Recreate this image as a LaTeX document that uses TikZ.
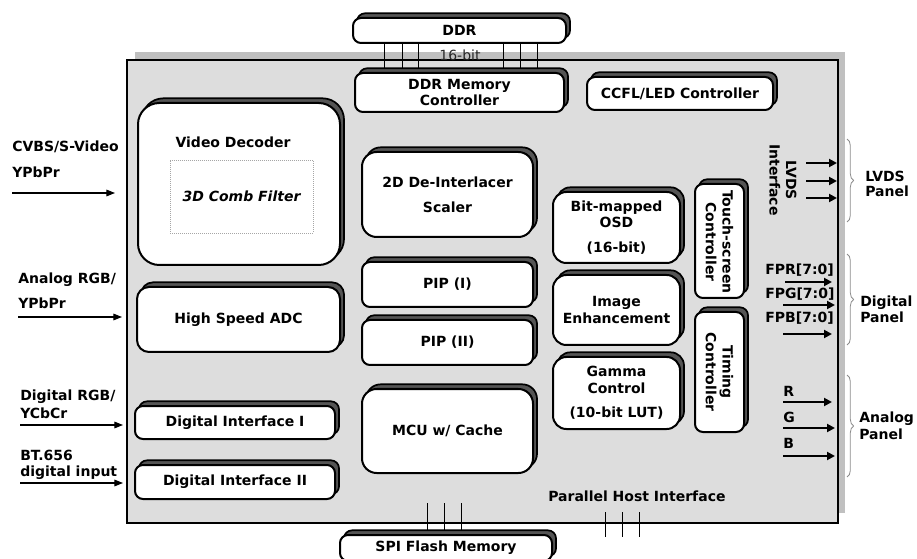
\documentclass[tikz,border=0pt]{standalone}
\usepackage{fontspec}
\setmainfont{DejaVu Sans}
\usetikzlibrary{shadows,decorations.pathreplacing,arrows.meta}
\pgfdeclarelayer{bgA}
\pgfdeclarelayer{bgB}
\pgfsetlayers{bgA,bgB,main}
\definecolor{chipfill}{HTML}{DDDDDD}
\definecolor{chipshade}{HTML}{C0C0C0}
\definecolor{boxshade}{HTML}{555555}
\begin{document}
\begin{tikzpicture}[x=0.75pt,y=-0.75pt,
  font=\fontsize{10.5}{12.5}\selectfont\bfseries,
  sz/.style 2 args={minimum width=#1*0.75pt, minimum height=#2*0.75pt},
  blk/.style={draw, line width=1.5pt, fill=white, rounded corners=#1, align=center, inner sep=0pt,
     copy shadow={shadow xshift=3pt, shadow yshift=3.5pt, fill=boxshade, draw=black, line width=1.3pt}},
  blk/.default=6pt,
  lab/.style={anchor=base west, inner sep=0pt},
  inarrow/.style={line width=0.8pt, -{Triangle[length=6.5pt,width=5pt]}},
  outarrow/.style={line width=1.8pt, -{Triangle[length=6pt,width=6pt]}},
  bus/.style={line width=0.6pt},
  brc/.style={decorate, decoration={brace, amplitude=5pt}, draw=black!45, line width=0.6pt}]
\useasboundingbox (0,0) rectangle (917,559);
\clip (0,0) rectangle (917,559);
\begin{pgfonlayer}{bgA}
\node[fill=chipshade, sz={710}{461}, inner sep=0pt] (chipshadow) at (490,282.5) {};
\node[fill=chipfill, draw, line width=0.8pt, sz={711}{463}, inner sep=0pt] (chip) at (482.5,291.5) {};
\end{pgfonlayer}

% blocks
\node[blk, sz={213}{25}] (ddr) at (459.5,30.5) {DDR};
\node[blk, sz={209}{39}] (ddrmc) at (459.5,92.5) {DDR Memory\\Controller};
\node[blk, sz={186}{33}] (ccfl) at (680,93.5) {CCFL/LED Controller};
\node[blk=16pt, sz={202}{162}] (vd) at (239,184) {};
\node (vdtext) at (233,142) {Video Decoder};
\node[draw=black!35, densely dotted, line width=0.5pt, sz={143}{73},
      font=\fontsize{10.5}{12.5}\selectfont\bfseries\itshape] (comb) at (241.5,196.5) {3D Comb Filter};
\node[blk=9pt, sz={203}{65}] (adc) at (238.5,319.5) {High Speed ADC};
\node[blk, sz={200}{33}] (di1) at (235,422.5) {Digital Interface I};
\node[blk, sz={200}{34}] (di2) at (235,482) {Digital Interface II};
\node[blk=11pt, sz={171}{85}] (dei) at (447.5,194.5) {2D De-Interlacer\\[6pt]Scaler};
\node[blk, sz={171}{45}] (pip1) at (447.5,284.5) {PIP (I)};
\node[blk, sz={171}{45}] (pip2) at (447.5,342.5) {PIP (II)};
\node[blk=11pt, sz={171}{84}] (mcu) at (447.5,431) {MCU w/ Cache};
\node[blk=10pt, sz={127}{71}] (osd) at (616.5,227.5) {Bit-mapped\\OSD\\[6pt](16-bit)};
\node[blk=10pt, sz={127}{70}] (ie) at (616.5,310) {Image\\Enhancement};
\node[blk=10pt, sz={127}{72}] (gc) at (616.5,393) {Gamma\\Control\\[6pt](10-bit LUT)};
\node[blk, sz={49}{114}] (tsc) at (719.5,241) {};
\node[rotate=-90, align=center, inner sep=0pt] (tsctext) at (719.5,242) {Touch-screen\\Controller};
\node[blk, sz={49}{120}] (tc) at (719.5,372) {};
\node[rotate=-90, align=center, inner sep=0pt] (tctext) at (719.5,372) {Timing\\Controller};
\node[blk, sz={212}{26}] (spi) at (446,548) {SPI Flash Memory};
\node[rotate=-90, align=center, inner sep=0pt] (lvdsif) at (783,180) {LVDS\\Interface};

% bus lines
\begin{pgfonlayer}{bgB}
\foreach \x in {384,402,418,503,520,537} \draw[bus] (ddr.south -| \x,0) -- (ddrmc.north -| \x,0);
\foreach \x in {427,444,461} {
  \coordinate (spitop\x) at (\x,503);
  \draw[bus] (spitop\x) -- (spi.north -| spitop\x);
}
\foreach \x in {605,622,639} {
  \coordinate (phia\x) at (\x,512);
  \coordinate (phib\x) at (\x,537);
  \draw[bus] (phia\x) -- (phib\x);
}
\end{pgfonlayer}
\node[font=\fontsize{10.5}{12.5}\selectfont\mdseries, text=black!85, inner sep=0pt] (bw) at (460,55) {16-bit};

% left inputs
\node[lab] (l1a) at (12,152) {CVBS/S-Video};
\node[lab] (l1b) at (12,178) {YPbPr};
\node[lab] (l2a) at (18,284) {Analog RGB/};
\node[lab] (l2b) at (18,309) {YPbPr};
\node[lab] (l3a) at (20,401) {Digital RGB/};
\node[lab] (l3b) at (20,418) {YCbCr};
\node[lab] (l4a) at (20,460) {BT.656};
\node[lab] (l4b) at (20,476) {digital input};
\coordinate (a1s) at (12,193);  \coordinate (a1e) at (115,193);
\coordinate (a2s) at (18,317);  \coordinate (a2e) at (122,317);
\coordinate (a3s) at (20,425);  \coordinate (a3e) at (123,425);
\coordinate (a4s) at (20,483);  \coordinate (a4e) at (123,483);
\draw[inarrow] (a1s) -- (a1e);
\draw[inarrow] (a2s) -- (a2e);
\draw[inarrow] (a3s) -- (a3e);
\draw[inarrow] (a4s) -- (a4e);

% right outputs
\foreach \y [count=\i] in {163,181,198} {
  \coordinate (lvs\i) at (806,\y); \coordinate (lve\i) at (837,\y);
  \draw[outarrow] (lvs\i) -- (lve\i);
}
\node[lab] (fpr) at (765,275) {FPR[7:0]};
\node[lab] (fpg) at (765,299) {FPG[7:0]};
\node[lab] (fpb) at (765,323) {FPB[7:0]};
\coordinate (fprs) at (785,282); \coordinate (fpre) at (832,282);
\coordinate (fpgs) at (783,305); \coordinate (fpge) at (835,305);
\coordinate (fpbs) at (783,334); \coordinate (fpbe) at (832,334);
\draw[outarrow] (fprs) -- (fpre);
\draw[outarrow] (fpgs) -- (fpge);
\draw[outarrow] (fpbs) -- (fpbe);
\node[lab] (rl) at (783,397) {R};
\node[lab] (gl) at (783,422) {G};
\node[lab] (bl) at (783,448) {B};
\coordinate (rs) at (783,402); \coordinate (re) at (832,402);
\coordinate (gs) at (783,428); \coordinate (ge) at (835,428);
\coordinate (bs) at (783,456); \coordinate (be) at (835,456);
\draw[outarrow] (rs) -- (re);
\draw[outarrow] (gs) -- (ge);
\draw[outarrow] (bs) -- (be);

% braces
\coordinate (b1t) at (847,139); \coordinate (b1b) at (847,222);
\coordinate (b2t) at (847,254); \coordinate (b2b) at (847,345);
\coordinate (b3t) at (847,375); \coordinate (b3b) at (847,477);
\draw[brc] (b1t) -- (b1b);
\draw[brc] (b2t) -- (b2b);
\draw[brc] (b3t) -- (b3b);
\node[lab] (p1a) at (865,182) {LVDS};
\node[lab] (p1b) at (865,197) {Panel};
\node[lab] (p2a) at (860,307) {Digital};
\node[lab] (p2b) at (860,323) {Panel};
\node[lab] (p3a) at (859,422) {Analog};
\node[lab] (p3b) at (859,439) {Panel};

\node[lab] (phi) at (548,501) {Parallel Host Interface};
\end{tikzpicture}
\end{document}
